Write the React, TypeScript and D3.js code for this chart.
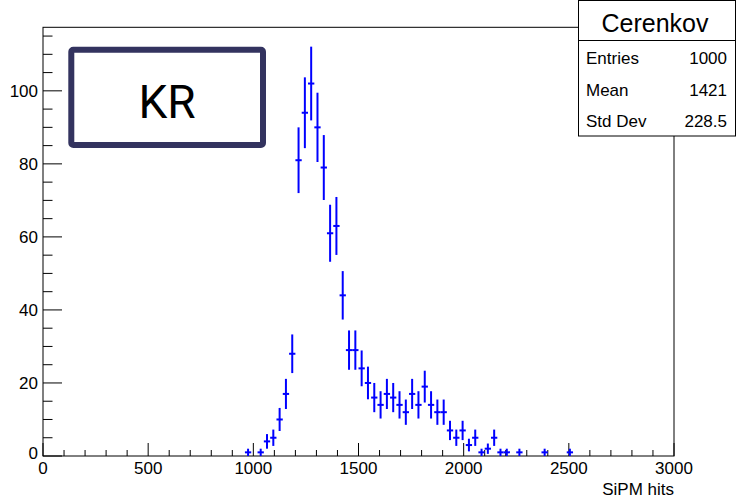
import React from 'react';
import * as d3 from 'd3';

const binCenters = [975, 1035, 1065, 1095, 1125, 1155, 1185, 1215, 1245, 1275, 1305, 1335, 1365, 1395, 1425, 1455, 1485, 1515, 1545, 1575, 1605, 1635, 1665, 1695, 1725, 1755, 1785, 1815, 1845, 1875, 1905, 1935, 1965, 1995, 2025, 2055, 2085, 2115, 2145, 2175, 2205, 2265, 2385, 2505];
const counts = [1, 1, 4, 5, 10, 17, 28, 81, 94, 102, 90, 79, 61, 63, 44, 29, 29, 24, 20, 16, 14, 17, 16, 14, 12, 17, 14, 19, 14, 12, 12, 7, 5, 7, 3, 5, 1, 2, 5, 1, 1, 1, 1, 1];
const binWidth = 30;
const xTickValues = [0, 500, 1000, 1500, 2000, 2500, 3000];
const yTickValues = [0, 20, 40, 60, 80, 100];
const statsLabels = ['Entries', 'Mean', 'Std Dev'];
const statsValues = ['1000', '1421', '228.5'];
const histTitle = 'Cerenkov';
const xAxisTitle = 'SiPM hits';
const badgeText = 'KR';

const W = 739;
const H = 502;
const FONT = '"Liberation Sans", Arial, Helvetica, sans-serif';

export default function App() {
  const x = d3.scaleLinear().domain([0, 3000]).range([43, 674]);
  const y = d3.scaleLinear().domain([0, 117.4]).range([456, 27.3]);
  const [x0, x1] = x.range();
  const [y0, y1] = y.range();

  const xMinor = d3.range(0, 3001, 100);
  const yMinor = d3.range(0, 117, 5);
  const blue = '#0000ff';

  return (
    <svg width={W} height={H} style={{ position: 'absolute', left: 0, top: 0, background: '#fff' }}>
      <rect x={0} y={0} width={W} height={H} fill="#fff" />
      {/* frame */}
      <rect x={x0} y={y1} width={x1 - x0} height={y0 - y1} fill="none" stroke="#000" strokeWidth={1} />
      {/* x ticks */}
      {xMinor.map((v) => {
        const major = v % 500 === 0;
        return <line key={'xt' + v} x1={x(v)} x2={x(v)} y1={y0} y2={y0 - (major ? 13 : 6)} stroke="#000" strokeWidth={1} />;
      })}
      {xTickValues.map((v) => (
        <text key={'xl' + v} x={x(v)} y={474} textAnchor="middle" fontFamily={FONT} fontSize={17} fill="#000">{v}</text>
      ))}
      <text x={x1} y={495} textAnchor="end" fontFamily={FONT} fontSize={17} fill="#000">{xAxisTitle}</text>
      {/* y ticks */}
      {yMinor.map((v) => {
        const major = v % 20 === 0;
        return <line key={'yt' + v} x1={x0} x2={x0 + (major ? 19 : 9.5)} y1={y(v)} y2={y(v)} stroke="#000" strokeWidth={1} />;
      })}
      {yTickValues.map((v) => (
        <text key={'yl' + v} x={38} y={y(v) + (v === 0 ? 3 : 6)} textAnchor="end" fontFamily={FONT} fontSize={17} fill="#000">{v}</text>
      ))}
      {/* data */}
      <g stroke={blue} strokeWidth={2}>
        {binCenters.map((c, i) => {
          const n = counts[i];
          const e = Math.sqrt(n);
          return (
            <g key={'b' + c}>
              <line x1={x(c - binWidth / 2)} x2={x(c + binWidth / 2)} y1={y(n)} y2={y(n)} />
              <line x1={x(c)} x2={x(c)} y1={y(Math.max(0, n - e))} y2={y(n + e)} />
            </g>
          );
        })}
      </g>
      {/* KR badge */}
      <rect x={71.3} y={49.7} width={191.7} height={95.3} rx={2} fill="#fff" stroke="#33335f" strokeWidth={6} />
      <text x={167} y={118.3} textAnchor="middle" fontFamily="Roboto, sans-serif" fontSize={46} fill="#000">{badgeText}</text>
      {/* stats box */}
      <rect x={578.5} y={0.5} width={157} height={135.5} fill="#fff" stroke="#000" strokeWidth={1} />
      <line x1={578.5} x2={735.5} y1={40.5} y2={40.5} stroke="#000" strokeWidth={1} />
      <text x={655} y={32} textAnchor="middle" fontFamily={FONT} fontSize={25} fill="#000">{histTitle}</text>
      {statsLabels.map((l, i) => (
        <g key={'s' + l}>
          <text x={586} y={64 + i * 31.7} fontFamily={FONT} fontSize={17} fill="#000">{l}</text>
          <text x={727} y={64 + i * 31.7} textAnchor="end" fontFamily={FONT} fontSize={17} fill="#000">{statsValues[i]}</text>
        </g>
      ))}
    </svg>
  );
}
